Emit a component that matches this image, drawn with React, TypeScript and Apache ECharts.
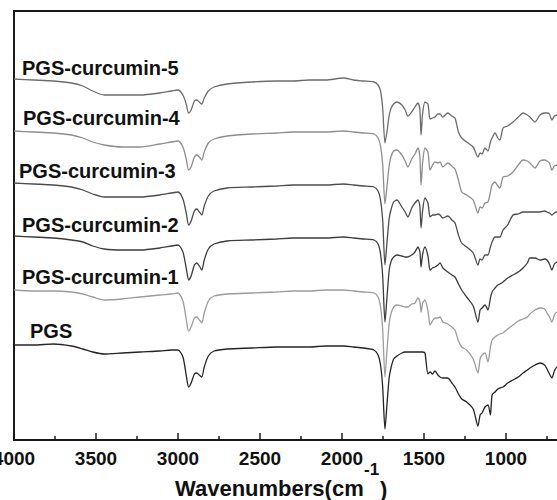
import React, { useEffect, useRef } from "react";
import * as echarts from "echarts";

const wavenumbers = [
  4000, 3880, 3760, 3650, 3580, 3520, 3450, 3340, 3230, 3110,
  3040, 3000, 2970, 2950, 2935, 2920, 2900, 2885, 2870, 2855,
  2840, 2815, 2780, 2700, 2550, 2400, 2300, 2200, 2100, 1990,
  1930, 1870, 1805, 1780, 1765, 1752, 1738, 1726, 1712, 1700,
  1685, 1665, 1635, 1615, 1598, 1575, 1555, 1537, 1525, 1518,
  1508, 1494, 1476, 1463, 1448, 1433, 1415, 1402, 1385, 1355,
  1330, 1311, 1290, 1270, 1240, 1200, 1171, 1158, 1146, 1128,
  1110, 1095, 1085, 1067, 1050, 1037, 1018, 990, 957, 925,
  896, 870, 854, 823, 793, 765, 750, 735, 720, 705,
  689, 660,
];

// absorption depth of each spectrum below its own baseline
const curcumin5 = [
  -1, 0, 1, 3, 6, 11, 15, 15, 15, 13,
  11, 10, 15, 24, 33, 30, 21, 20, 22, 24,
  18, 11, 7, 4, 2, 1, 1, 0, 0, -2,
  0, 1, 2, 5, 11, 28, 63, 52, 35, 28,
  24, 22, 25, 30, 36, 32, 27, 23, 30, 55,
  33, 22, 24, 39, 38, 37, 34, 34, 37, 33,
  36, 38, 52, 58, 62, 67, 77, 73, 74, 68,
  71, 62, 58, 53, 58, 60, 48, 46, 42, 37,
  33, 35, 37, 42, 35, 33, 33, 34, 40, 36,
  35, 34,
];
const curcumin4 = [
  -1, 0, 1, 3, 6, 10, 13, 15, 15, 12,
  10, 9, 15, 27, 38, 35, 25, 23, 25, 28,
  20, 11, 7, 4, 2, 1, 0, 0, 0, -1,
  0, 1, 2, 6, 14, 32, 72, 55, 33, 24,
  19, 18, 23, 29, 35, 27, 22, 16, 25, 53,
  30, 16, 20, 38, 33, 30, 31, 30, 35, 31,
  34, 37, 48, 60, 63, 68, 81, 75, 76, 71,
  70, 60, 53, 50, 54, 56, 45, 44, 40, 33,
  28, 29, 31, 36, 29, 28, 29, 31, 38, 34,
  33, 32,
];
const curcumin3 = [
  -2, -1, 0, 2, 5, 9, 12, 12, 12, 10,
  8, 7, 14, 28, 40, 36, 26, 24, 27, 30,
  21, 11, 6, 3, 2, 1, 0, 0, 0, -1,
  0, 1, 2, 6, 15, 35, 80, 58, 33, 24,
  17, 15, 22, 27, 32, 23, 18, 15, 22, 43,
  25, 13, 18, 32, 30, 30, 29, 30, 33, 31,
  35, 38, 50, 58, 62, 68, 80, 74, 75, 70,
  70, 62, 57, 52, 52, 52, 45, 40, 30, 29,
  27, 27, 27, 27, 27, 26, 27, 28, 30, 28,
  27, 27,
];
const curcumin2 = [
  -2, -1, 0, 2, 4, 8, 11, 12, 12, 10,
  8, 7, 14, 30, 42, 38, 27, 25, 28, 32,
  22, 11, 6, 3, 2, 1, 0, 0, 0, -1,
  0, 1, 2, 6, 16, 38, 84, 60, 32, 23,
  19, 17, 18, 19, 19, 17, 14, 9, 14, 29,
  16, 9, 18, 32, 30, 29, 27, 25, 30, 34,
  37, 39, 46, 52, 59, 68, 84, 72, 70, 67,
  72, 60, 54, 50, 47, 46, 44, 40, 37, 34,
  30, 25, 20, 20, 22, 21, 22, 26, 32, 26,
  24, 23,
];
const curcumin1 = [
  -1, 0, 0, 1, 3, 6, 9, 8, 6, 4,
  3, 2, 10, 28, 40, 36, 27, 26, 29, 32,
  22, 10, 5, 3, 2, 1, 0, 0, -1, -1,
  0, 1, 2, 6, 16, 38, 86, 60, 32, 22,
  16, 14, 15, 16, 16, 13, 12, 7, 11, 21,
  12, 9, 20, 34, 30, 27, 27, 26, 31, 33,
  36, 39, 50, 56, 59, 68, 82, 68, 64, 62,
  71, 56, 49, 46, 44, 43, 42, 38, 34, 30,
  28, 26, 23, 19, 17, 18, 22, 26, 31, 24,
  21, 20,
];
const pgs = [
  -2, -2, -3, -1, 2, 5, 7, 6, 5, 4,
  3, 3, 10, 28, 40, 36, 27, 26, 28, 30,
  20, 9, 4, 2, 1, 0, 0, 0, -1, -1,
  0, 1, 3, 8, 18, 40, 82, 58, 30, 20,
  12, 9, 6, 5, 5, 5, 5, 5, 5, 5,
  5, 6, 27, 25, 27, 24, 28, 30, 31, 31,
  36, 40, 47, 52, 55, 62, 79, 68, 66, 60,
  58, 68, 48, 45, 42, 41, 40, 36, 33, 30,
  26, 23, 21, 18, 16, 18, 22, 27, 31, 24,
  20, 19,
];

const seriesNames = [
  "PGS-curcumin-5",
  "PGS-curcumin-4",
  "PGS-curcumin-3",
  "PGS-curcumin-2",
  "PGS-curcumin-1",
  "PGS",
];
const seriesDepths = [curcumin5, curcumin4, curcumin3, curcumin2, curcumin1, pgs];
// vertical stacking level of each trace (in axis units, top of axis = 429)
const seriesLevels = [360, 308, 255, 202, 149, 93];
const seriesColors = ["#6c6c6c", "#8e8e8e", "#4c4c4c", "#3c3c3c", "#9c9c9c", "#242424"];
const labelPos = [
  [22, 68],
  [23, 118],
  [19, 171],
  [22, 225],
  [22, 277],
  [30, 331],
];

const xTicks = [4000, 3500, 3000, 2500, 2000, 1500, 1000];

export default function App() {
  const ref = useRef<HTMLDivElement>(null);
  useEffect(() => {
    document.body.style.margin = "0";
    if (!ref.current) return;
    const chart = echarts.init(ref.current, null, { renderer: "svg" });
    const font = '"Liberation Sans", Arial, sans-serif';
    const series = seriesNames.map((name, s) => ({
      name,
      type: "line",
      showSymbol: false,
      symbol: "none",
      smooth: 0.25,
      data: wavenumbers.map((w, i) => [w, seriesLevels[s] - seriesDepths[s][i]]),
      lineStyle: { color: seriesColors[s], width: 1.3 },
      itemStyle: { color: seriesColors[s] },
      z: 3,
    }));
    const graphics: any[] = seriesNames.map((name, s) => ({
      type: "text",
      x: labelPos[s][0],
      y: labelPos[s][1],
      style: {
        text: name,
        font: `bold 20px ${font}`,
        fill: "#111",
        verticalAlign: "middle",
        align: "left",
      },
      z: 10,
    }));
    graphics.push(
      {
        type: "text",
        x: 175,
        y: 488,
        style: { text: "Wavenumbers(cm", font: `bold 22px ${font}`, fill: "#111", verticalAlign: "middle" },
      },
      {
        type: "text",
        x: 364,
        y: 469,
        style: { text: "-1", font: `bold 17px ${font}`, fill: "#111", verticalAlign: "middle" },
      },
      {
        type: "text",
        x: 380,
        y: 489,
        style: { text: ")", font: `bold 22px ${font}`, fill: "#111", verticalAlign: "middle" },
      }
    );
    chart.setOption({
      animation: false,
      backgroundColor: "#fff",
      grid: {
        left: 14,
        right: -31,
        top: 11,
        bottom: 60,
        containLabel: false,
        outerBoundsMode: "none",
        show: true,
        borderColor: "#1a1a1a",
        borderWidth: 2,
        backgroundColor: "transparent",
      },
      xAxis: {
        type: "value",
        inverse: true,
        min: 500,
        max: 4000,
        interval: 500,
        axisLine: { show: true, onZero: false, lineStyle: { color: "#1a1a1a", width: 2 } },
        axisTick: { show: true, inside: true, length: 7, lineStyle: { color: "#1a1a1a", width: 1.5 } },
        minorTick: { show: true, splitNumber: 2, length: 4, lineStyle: { color: "#1a1a1a", width: 1.5 } },
        splitLine: { show: false },
        axisLabel: {
          show: true,
          margin: 9,
          color: "#111",
          fontSize: 19,
          fontWeight: "bold",
          fontFamily: font,
          formatter: (v: number) => (xTicks.includes(v) ? String(v) : ""),
        },
      },
      yAxis: {
        type: "value",
        min: 0,
        max: 429,
        show: false,
        splitLine: { show: false },
      },
      series,
      graphic: graphics,
    });
    return () => chart.dispose();
  }, []);
  return <div ref={ref} style={{ width: 557, height: 500 }} />;
}
